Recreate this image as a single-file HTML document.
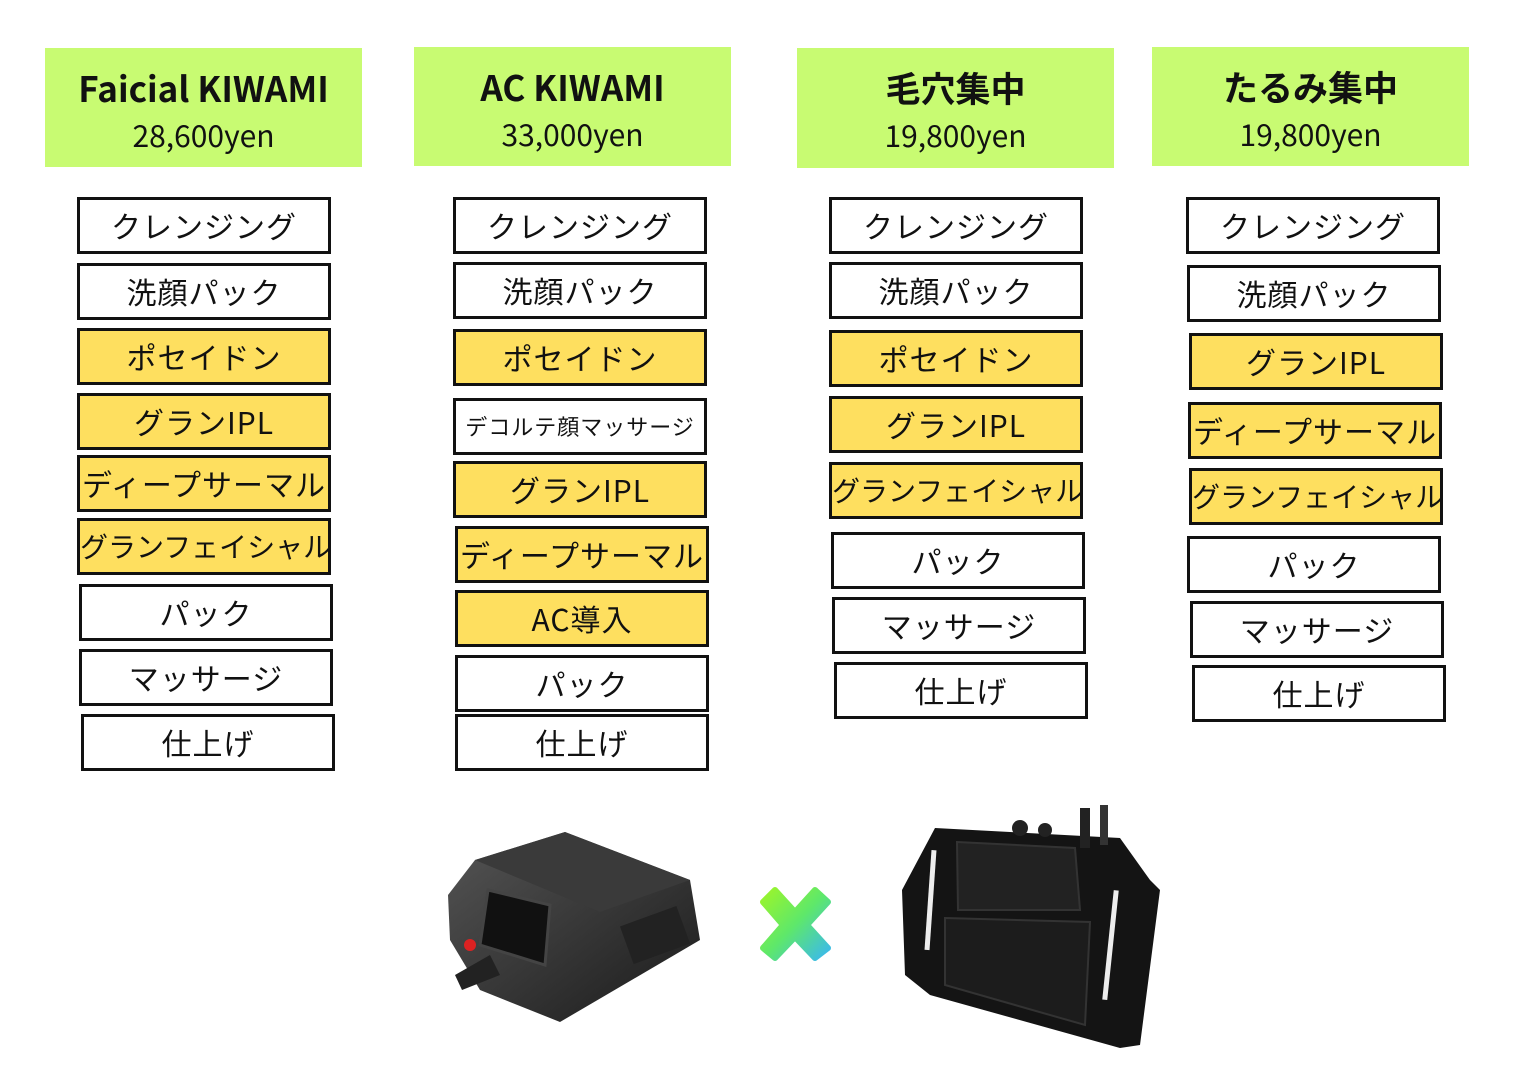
<!DOCTYPE html>
<html><head><meta charset="utf-8"><style>
html,body{margin:0;padding:0;background:#fff;}
body{width:1522px;height:1076px;position:relative;overflow:hidden;font-family:"Noto Sans CJK JP",sans-serif;}
.h{position:absolute;background:#c8fb72;text-align:center;color:#111;font-family:"Noto Sans CJK JP",sans-serif;}
.h .t{font-weight:bold;font-size:35px;margin-top:18px;line-height:44px;}
.h .p{font-size:30px;line-height:44px;margin-top:2px;}
.b{position:absolute;width:248px;height:51px;border:3px solid #111;box-sizing:content-box;text-align:center;line-height:51px;font-size:30px;color:#111;white-space:nowrap;overflow:hidden;font-family:"Noto Sans CJK JP",sans-serif;letter-spacing:1px;}
.y{background:#fedf5f;}
.s{font-size:22px;}
.n{font-size:28px;letter-spacing:0;}
</style></head><body>
<div class="h" style="left:45px;top:48px;width:317px;height:119px"><div class="t">Faicial KIWAMI</div><div class="p">28,600yen</div></div>
<div class="h" style="left:414px;top:47px;width:317px;height:119px"><div class="t">AC KIWAMI</div><div class="p">33,000yen</div></div>
<div class="h" style="left:797px;top:48px;width:317px;height:120px"><div class="t">毛穴集中</div><div class="p">19,800yen</div></div>
<div class="h" style="left:1152px;top:47px;width:317px;height:119px"><div class="t">たるみ集中</div><div class="p">19,800yen</div></div>

<div class="b" style="left:77px;top:197px">クレンジング</div>
<div class="b" style="left:77px;top:263px">洗顔パック</div>
<div class="b y" style="left:77px;top:328px">ポセイドン</div>
<div class="b y" style="left:77px;top:393px">グランIPL</div>
<div class="b y" style="left:77px;top:455px">ディープサーマル</div>
<div class="b y n" style="left:77px;top:518px">グランフェイシャル</div>
<div class="b" style="left:79px;top:584px">パック</div>
<div class="b" style="left:79px;top:649px">マッサージ</div>
<div class="b" style="left:81px;top:714px">仕上げ</div>

<div class="b" style="left:453px;top:197px">クレンジング</div>
<div class="b" style="left:453px;top:262px">洗顔パック</div>
<div class="b y" style="left:453px;top:329px">ポセイドン</div>
<div class="b s" style="left:453px;top:398px">デコルテ顔マッサージ</div>
<div class="b y" style="left:453px;top:461px">グランIPL</div>
<div class="b y" style="left:455px;top:526px">ディープサーマル</div>
<div class="b y" style="left:455px;top:590px">AC導入</div>
<div class="b" style="left:455px;top:655px">パック</div>
<div class="b" style="left:455px;top:714px">仕上げ</div>

<div class="b" style="left:829px;top:197px">クレンジング</div>
<div class="b" style="left:829px;top:262px">洗顔パック</div>
<div class="b y" style="left:829px;top:330px">ポセイドン</div>
<div class="b y" style="left:829px;top:396px">グランIPL</div>
<div class="b y n" style="left:829px;top:462px">グランフェイシャル</div>
<div class="b" style="left:831px;top:532px">パック</div>
<div class="b" style="left:832px;top:597px">マッサージ</div>
<div class="b" style="left:834px;top:662px">仕上げ</div>

<div class="b" style="left:1186px;top:197px">クレンジング</div>
<div class="b" style="left:1187px;top:265px">洗顔パック</div>
<div class="b y" style="left:1189px;top:333px">グランIPL</div>
<div class="b y" style="left:1188px;top:402px">ディープサーマル</div>
<div class="b y n" style="left:1189px;top:468px">グランフェイシャル</div>
<div class="b" style="left:1187px;top:536px">パック</div>
<div class="b" style="left:1190px;top:601px">マッサージ</div>
<div class="b" style="left:1192px;top:665px">仕上げ</div>

<svg style="position:absolute;left:0;top:0" width="1522" height="1076">
<defs>
<linearGradient id="d1" x1="0" y1="0" x2="1" y2="1"><stop offset="0" stop-color="#555"/><stop offset="1" stop-color="#1a1a1a"/></linearGradient>
<linearGradient id="x" x1="0" y1="0" x2="1" y2="1"><stop offset="0" stop-color="#9cf52a"/><stop offset="0.5" stop-color="#5ee86a"/><stop offset="1" stop-color="#3ab8f0"/></linearGradient>
</defs>
<path d="M475 860 L565 832 L690 880 L700 940 L560 1022 L480 990 L450 940 L448 895 Z" fill="url(#d1)"/>
<path d="M475 860 L565 832 L690 880 L600 912 Z" fill="#3a3a3a"/>
<path d="M488 890 L550 905 L545 965 L480 945 Z" fill="#111" stroke="#444" stroke-width="3"/>
<circle cx="470" cy="945" r="6" fill="#d22"/>
<path d="M455 975 L490 955 L500 975 L462 990 Z" fill="#222"/>
<rect x="625" y="915" width="60" height="40" fill="#222" transform="rotate(-20 655 935)"/>
<path d="M775 890 L795 912 L815 890 L828 902 L807 925 L828 948 L815 958 L795 937 L775 958 L763 948 L783 925 L763 902 Z" fill="url(#x)" stroke="url(#x)" stroke-width="6" stroke-linejoin="round"/>
<path d="M935 828 L1120 838 L1150 880 L1160 890 L1140 1045 L1120 1048 L930 995 L905 975 L902 890 Z" fill="#141414"/>
<rect x="1080" y="808" width="10" height="40" fill="#222"/><rect x="1100" y="805" width="8" height="40" fill="#333"/>
<circle cx="1020" cy="828" r="8" fill="#222"/><circle cx="1045" cy="830" r="7" fill="#222"/>
<path d="M957 842 L1075 848 L1080 910 L958 910 Z" fill="#222" stroke="#333" stroke-width="2"/>
<path d="M945 918 L1090 922 L1085 1025 L945 985 Z" fill="#1c1c1c" stroke="#333" stroke-width="2"/>
<rect x="928" y="850" width="5" height="100" fill="#eee" transform="rotate(4 930 900)"/>
<rect x="1108" y="890" width="5" height="110" fill="#eee" transform="rotate(6 1110 945)"/>
</svg>
</body></html>
